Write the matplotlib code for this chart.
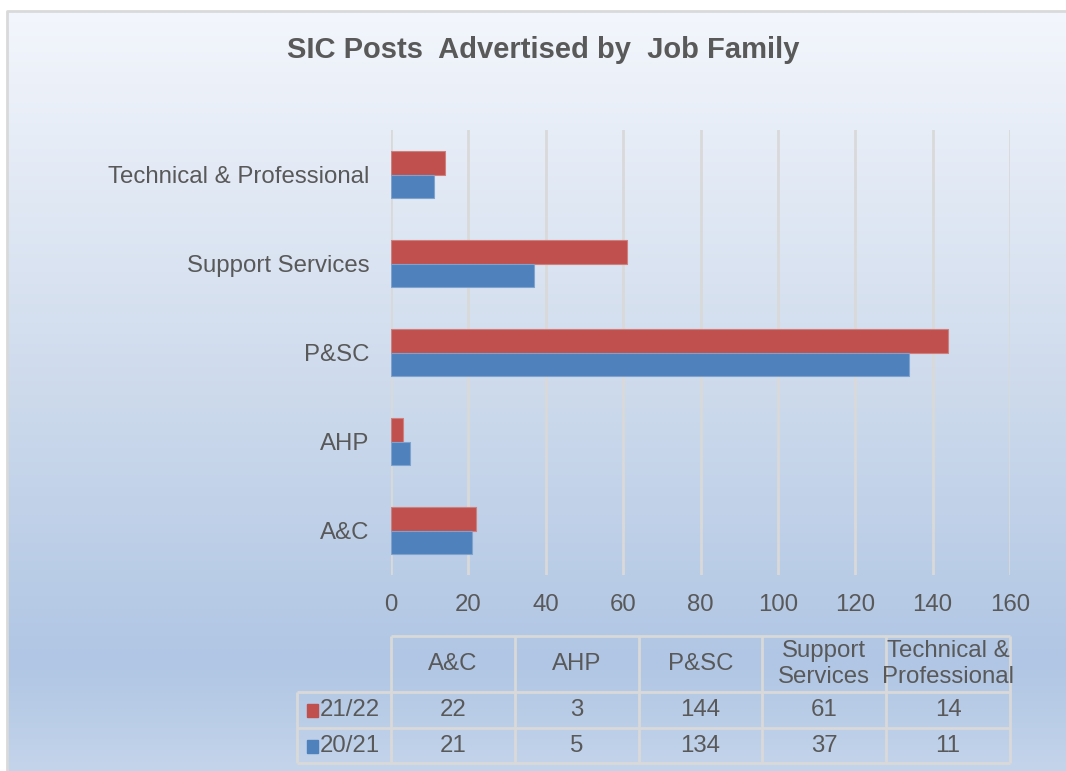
import numpy as np
import matplotlib
matplotlib.use("Agg")
import matplotlib.pyplot as plt
from matplotlib.patches import Rectangle

plt.rcParams["font.family"] = ["Liberation Sans", "DejaVu Sans"]

# data
categories = ["A&C", "AHP", "P&SC", "Support Services", "Technical & Professional"]
col_labels = ["A&C", "AHP", "P&SC", "Support\nServices", "Technical &\nProfessional"]
series_names = ["21/22", "20/21"]
vals_2122 = [22, 3, 144, 61, 14]
vals_2021 = [21, 5, 134, 37, 11]
xticks = [0, 20, 40, 60, 80, 100, 120, 140, 160]

RED = "#C0504D"
BLUE = "#4F81BD"
TXT = "#595959"
GRID = "#D9D9D9"
FS = 17.3

W, H = 1066, 771
fig = plt.figure(figsize=(W / 100, H / 100), dpi=100)
fig.patch.set_facecolor("white")


def fx(px):
    return px / W


def fy(py):
    return 1 - py / H


# gradient background (light at top, darkest near the table, lighter at the bottom)
bg = fig.add_axes([fx(7), 0, 1 - fx(7), fy(11)])
stops = [0.0, 0.5, 0.85, 1.0]
cols = np.array([[243, 246, 252], [205, 218, 236], [176, 198, 228], [197, 213, 235]]) / 255
t = np.linspace(0, 1, 400)
grad = np.stack([np.interp(t, stops, cols[:, k]) for k in range(3)], axis=1)
bg.imshow(grad[:, None, :], aspect="auto", extent=[-0.5, 1.5, -0.01, 1.0],
          interpolation="bilinear")
bg.set_xlim(0, 1)
bg.set_ylim(0, 1)
bg.plot([0, 0, 1], [0, 1, 1], color=GRID, lw=2, transform=bg.transAxes, clip_on=False)
bg.set_axis_off()

# main bar chart
ax = fig.add_axes([fx(391), fy(575), fx(1010) - fx(391), fy(130) - fy(575)])
ax.patch.set_alpha(0)
y = np.arange(len(categories))
h = 0.26
ax.barh(y + h / 2, vals_2122, height=h, color=RED, edgecolor="#D07F7C", lw=0.8, zorder=3)
ax.barh(y - h / 2, vals_2021, height=h, color=BLUE, edgecolor="#7FA3CF", lw=0.8, zorder=3)
ax.set_xlim(0, 160)
ax.set_ylim(-0.5, len(categories) - 0.5)
ax.set_xticks(xticks)
ax.set_yticks(y)
ax.set_yticklabels(categories)
ax.tick_params(length=0, labelsize=FS, labelcolor=TXT)
ax.tick_params(axis="x", pad=14)
ax.tick_params(axis="y", pad=15.5)
ax.grid(axis="x", color=GRID, lw=2, zorder=1)
for s in ax.spines.values():
    s.set_visible(False)

fig.text(fx(543), fy(50), "SIC Posts  Advertised by  Job Family", ha="center", va="center",
         fontsize=21, fontweight="bold", color=TXT)

# data table below the chart
tb = fig.add_axes([fx(297), fy(763), fx(1010) - fx(297), fy(636) - fy(763)])
tb.set_xlim(-94 / 124, 5)
tb.set_ylim(127, 0)
tb.set_axis_off()
tb.patch.set_alpha(0)
ncol = len(categories)
lk = dict(color=GRID, lw=2, solid_capstyle="butt", clip_on=False)
tb.plot([0, ncol], [0, 0], **lk)
for yy in [56, 92, 127]:
    tb.plot([-94 / 124, ncol], [yy, yy], **lk)
for i in range(ncol + 1):
    tb.plot([i, i], [0, 127], **lk)
tb.plot([-94 / 124, -94 / 124], [56, 127], **lk)

for i, lab in enumerate(col_labels):
    tb.text(i + 0.5, 28, lab, ha="center", va="center", fontsize=FS, color=TXT, linespacing=1.27)
rows = [vals_2122, vals_2021]
colors = [RED, BLUE]
for r, (vals, name, c) in enumerate(zip(rows, series_names, colors)):
    yc = 74 + r * 36
    for i, v in enumerate(vals):
        tb.text(i + 0.5, yc, str(v), ha="center", va="center", fontsize=FS, color=TXT)
    tb.add_patch(Rectangle((-84 / 124, yc - 6), 11 / 124, 13, color=c, clip_on=False))
    tb.text(-71 / 124, yc, name, ha="left", va="center", fontsize=FS, color=TXT)

fig.savefig("out.png", dpi=100)
